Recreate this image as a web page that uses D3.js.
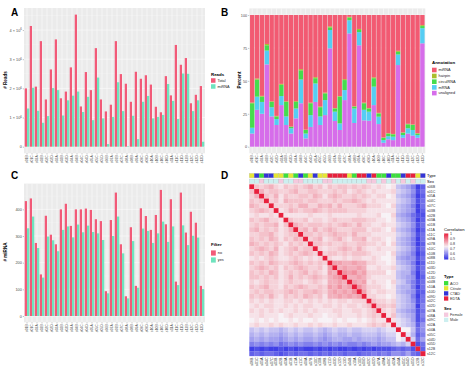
<!DOCTYPE html>
<html><head><meta charset="utf-8">
<script src="https://cdn.jsdelivr.net/npm/d3@7"></script>
<style>
body{margin:0;background:#fff}
svg{display:block}
text{font-family:"Liberation Sans",Arial,sans-serif}
</style>
</head><body>
<svg id="c" width="474" height="373"></svg>
<script>
// ---------- DATA ----------
const samples = ["s01B","s01C","s02A","s02B","s02C","s02D","s03A","s03B","s03D","s04A","s04B","s04C",
  "s04D","s05A","s05C","s05D","s06B","s07A","s07B","s07C","s08A","s08B","s09A","s09C",
  "s09D","s10A","s10B","s10C","s10D","s11A","s11C","s11D","s12B","s12C","s12D","s13D"];
// Panel A: reads (millions)
const totalReads = [2.00,4.14,2.06,3.62,1.62,2.65,3.68,1.66,1.89,2.72,4.53,1.38,2.56,1.94,3.38,1.62,1.21,1.44,
  3.62,2.49,2.16,1.54,2.57,2.33,2.45,2.13,1.37,1.18,2.42,1.76,3.49,2.81,3.04,1.49,1.78,2.08];
const mirnaReads = [1.31,2.02,1.23,0.82,1.05,2.01,1.94,1.07,1.59,1.75,1.89,1.19,1.71,0.91,2.37,0.97,0.09,1.02,
  2.21,1.22,0.02,1.06,0.26,1.54,1.74,0.97,1.02,1.09,2.15,1.57,0.95,2.51,2.50,1.22,1.59,0.17];
const readTicks = [0,1,2,3,4];
// Panel B: annotation percentages
const pctUnaligned = [10,28,25,62.5,23,16.5,31.6,16.5,10,21.5,33,6.3,15,34,16.5,24,74.7,19.5,12.7,35.4,86,18,77,20,19.7,31.6,17.2,3,5.6,5,62,6.8,10,8.4,6.8,78.5];
const pctMRNA = [4.4,10,9,10.5,7,4.5,6.9,6.5,4,7.5,18,3.7,9,14,6.5,11.4,13.9,7.1,5,7.6,10,11,10,8,6.9,14,5.6,2,2.4,2.6,8,2.1,4,4.3,2.1,11.5];
const pctCircul = [18.6,13,4,4,4,2,8.5,11,1,5,7,2.7,9,4,7,5.1,2,2.4,20.3,7.6,2,1.4,1.6,5,2.4,6.4,2.5,1.8,2,1.8,2,1.7,3,3.8,1.1,1.6];
const pctHairpin = [0.5,0.8,0.6,1.0,0.5,0.4,0.7,0.5,0.3,0.6,0.9,0.3,0.5,0.8,0.5,0.6,0.8,0.4,0.5,0.7,0.6,0.4,0.8,0.5,0.4,0.7,0.4,0.2,0.3,0.3,0.8,0.3,0.4,0.4,0.3,0.7];
const pctMiRNA = [66.5,48.2,61.4,22,65.5,76.6,52.3,65.5,84.7,65.4,41.1,87,66.5,47.2,69.5,58.9,8.6,70.6,61.5,48.7,1.4,69.2,10.6,66.5,70.6,47.3,74.3,93,89.7,90.3,27.2,89.1,82.6,83.1,89.7,7.7];
const annotLevels = ["miRNA","hairpin","circulRNA","mRNA","unaligned"];
const annotColors = ["#F25A72","#A9BE2E","#46DC4E","#55CDF3","#D66DEA"];
const pctTicks = [0,25,50,75,100];
// Panel C: number of miRNAs
const mirnaNo = [431,441,274,156,376,305,269,400,421,338,400,400,403,398,363,356,93,360,463,269,74,333,113,404,375,323,379,473,344,438,129,463,313,391,350,113];
const mirnaYes = [329,373,255,144,298,284,243,323,336,295,343,314,339,315,310,285,85,300,373,235,66,281,106,328,319,274,310,354,278,336,116,340,266,301,294,101];
const mirnaTicks = [0,100,200,300,400];
// Panel D: correlation heatmap (lower triangle, letters a..z = 0.50..1.00 step 0.02)
const heatLabels = ["s06B","s01C","s05A","s04C","s07C","s03B","s02B","s03A","s01B","s11A","s11C","s09A",
  "s07B","s10C","s10B","s08B","s11D","s03D","s12D","s13D","s04B","s10A","s10D","s09D",
  "s02C","s02D","s07A","s08A","s09C","s02A","s04A","s05C","s04D","s05D","s12B","s12C"];
const heatRows = [
 "z","pz","oqz","popz","qpooz","opqpoz","nonnonz","popqoonz","opoppqnpz","pqopopnoqz",
 "ooppqonoppz","popoqpnpoqpz","qpopoponpopoz","opqpoqnopqoppz","popoqpnopopqpoz","nonoponnopononoz",
 "popoqpoopqpopopoz","opqpopnpopqpoopnrz","popoqpnopopqoponrqz","ppopopnoqopopqpoqrsz",
 "onopoonopoonoponqqrqz","popqoonpopqpoopoorqsqrz".slice(0,0)+"popqoonpopqpoopo"+"rqsqr"+"z",
 "opoppoopqpoppqpo"+"qrqrqs"+"z","popoqonpopoqpopn"+"qqrqrqr"+"z",
 "onononnoonononon"+"onoonooo"+"z","nonoonnononoonno"+"ononoono"+"p"+"z",
 "ononononnonononn"+"noonnoon"+"op"+"z","nnonnnmnonnnonnm"+"nnonnnon"+"opo"+"z",
 "mnmnmnmmnmnmmnmm"+"mnmnmmnm"+"nonn"+"z","nonnononnonnonon"+"nonnonnn"+"opopn"+"z",
 "jkjkjjijkjkjjkji"+"jkjjkjjk"+"kkjkll"+"z","ijijiihijijiijih"+"ijiijiij"+"jjijkk"+"m"+"z",
 "hihihhghihihhihg"+"hiihhihi"+"iihijj"+"ml"+"z","fgfgfgefgfgffgfg"+"fgfgffgf"+"ghghhi"+"jik"+"z",
 "bcbcbbcbcbcbbcbc"+"bcbbcbcb"+"cbcccd"+"edec"+"z","dedeedcdedeedede"+"deedeede"+"efefeg"+"gfhe"+"d"+"z"
];
const typeLevels = ["ACO","Citrate","CTAD","EDTA"];
const typeColors = ["#3BE03B","#E6E636","#3434D6","#E8203C"];
const tubeLetters = ["A","B","C","D"];
const sexLevels = ["Female","Male"];
const sexColors = ["#F5C9DE","#CDEFF0"];
const subjectSex = {"s01":"Male","s02":"Female","s03":"Male","s04":"Male","s05":"Female","s06":"Male","s07":"Male",
  "s08":"Female","s09":"Male","s10":"Male","s11":"Female","s12":"Male","s13":"Male"};
const corTicks = [1,0.9,0.8,0.7,0.6,0.5];

// ---------- DRAW ----------
const svg = d3.select("#c");
const PINK = "#F25A78", GREEN = "#6FE3BE";
const tickCol = "#4D4D4D";

function panelLetter(t, x, y){
  svg.append("text").attr("x",x).attr("y",y).attr("font-size",10).attr("font-weight","bold").text(t);
}
panelLetter("A",11,16); panelLetter("B",221,16); panelLetter("C",11,179); panelLetter("D",221,179);

function greyPanel(g, x0, x1, y0, y1, yScale, ticks, xScale){
  g.append("rect").attr("x",x0).attr("y",y0).attr("width",x1-x0).attr("height",y1-y0).attr("fill","#EBEBEB");
  const mids = [];
  for (let i=0;i<ticks.length-1;i++) mids.push((ticks[i]+ticks[i+1])/2);
  mids.push(ticks[ticks.length-1] + (ticks[1]-ticks[0])/2);
  g.selectAll(null).data(mids.filter(v=>yScale(v)>y0)).join("line")
    .attr("x1",x0).attr("x2",x1).attr("y1",d=>yScale(d)).attr("y2",d=>yScale(d))
    .attr("stroke","#F7F7F7").attr("stroke-width",0.3);
  g.selectAll(null).data(ticks).join("line")
    .attr("x1",x0).attr("x2",x1).attr("y1",d=>yScale(d)).attr("y2",d=>yScale(d))
    .attr("stroke","#fff").attr("stroke-width",0.5);
  g.selectAll(null).data(xScale.domain()).join("line")
    .attr("x1",d=>xScale(d)+xScale.bandwidth()/2).attr("x2",d=>xScale(d)+xScale.bandwidth()/2)
    .attr("y1",y0).attr("y2",y1).attr("stroke","#fff").attr("stroke-width",0.5);
}

function xAxis(g, xScale, y){
  const ax = g.append("g").attr("transform",`translate(0,${y})`)
    .call(d3.axisBottom(xScale).tickSize(1.2).tickPadding(1).tickSizeOuter(0));
  ax.select(".domain").remove();
  ax.selectAll("line").attr("stroke","#333").attr("stroke-width",0.3);
  ax.selectAll("text").attr("font-size",3.4).attr("fill",tickCol)
    .attr("transform","rotate(-90)").attr("text-anchor","end")
    .attr("x",-2).attr("y",0).attr("dy","0.35em");
}
function yAxis(g, yScale, ticks, x, fmt){
  const ax = g.append("g").attr("transform",`translate(${x},0)`)
    .call(d3.axisLeft(yScale).tickValues(ticks).tickSize(1.2).tickPadding(1).tickSizeOuter(0));
  ax.select(".domain").remove();
  ax.selectAll("line").attr("stroke","#333").attr("stroke-width",0.3);
  const t = ax.selectAll("text").attr("font-size",3.8).attr("fill",tickCol);
  if (fmt) t.each(fmt);
}
function axisTitle(text, x, y){
  svg.append("text").attr("transform",`translate(${x},${y}) rotate(-90)`).attr("text-anchor","middle")
    .attr("font-size",4.6).attr("font-weight","bold").text(text);
}
function legend(x, yTitle, title, labels, colors, yKeys, keyW, keyH){
  const g = svg.append("g");
  g.append("text").attr("x",x).attr("y",yTitle).attr("font-size",4.4).attr("font-weight","bold").text(title);
  labels.forEach((l,i)=>{
    g.append("rect").attr("x",x).attr("y",yKeys[i]-keyH/2).attr("width",keyW).attr("height",keyH).attr("fill",colors[i]);
    g.append("text").attr("x",x+keyW+2).attr("y",yKeys[i]).attr("dy","0.35em").attr("font-size",3.8).attr("fill","#222").text(l);
  });
}

function dodgePanel(x0,x1,y0,y1,maxV,vA,vB,ticks,fmt){
  const g = svg.append("g");
  const x = d3.scaleBand().domain(samples).range([x0,x1]).paddingInner(0).paddingOuter(0.1);
  const y = d3.scaleLinear().domain([-0.05*maxV, 1.05*maxV]).range([y1,y0]);
  greyPanel(g,x0,x1,y0,y1,y,ticks,x);
  const step = x.step(), bw = step*0.45;
  g.selectAll(null).data(samples).join("rect")
    .attr("x",(d,i)=>x(d)+step/2-bw).attr("width",bw)
    .attr("y",(d,i)=>y(vA[i])).attr("height",(d,i)=>y(0)-y(vA[i])).attr("fill",PINK);
  g.selectAll(null).data(samples).join("rect")
    .attr("x",(d,i)=>x(d)+step/2).attr("width",bw)
    .attr("y",(d,i)=>y(vB[i])).attr("height",(d,i)=>y(0)-y(vB[i])).attr("fill",GREEN);
  xAxis(g,x,y1);
  yAxis(g,y,ticks,x0,fmt);
}

// Panel A
dodgePanel(24,205,8,153.3,d3.max(totalReads),totalReads,mirnaReads,readTicks,function(d){
  const t = d3.select(this); t.text(null);
  if (d===0){ t.text("0"); return; }
  t.append("tspan").text(d+" \u00D7 10");
  t.append("tspan").attr("dy",-1.3).attr("font-size",2.8).text("6");
});
axisTitle("# Reads",6.5,80);
legend(211,76,"Reads",["Total","miRNA"],[PINK,GREEN],[80.5,86.5],4.5,4.5);

// Panel C
dodgePanel(24,205,183.6,322.3,d3.max(mirnaNo),mirnaNo,mirnaYes,mirnaTicks,null);
axisTitle("# miRNA",6.5,252);
legend(211,246,"Filter",["no","yes"],[PINK,GREEN],[253,260],4.8,5.2);

// Panel B
(function(){
  const x0=249.3,x1=425.3,y0=8.4,y1=153.3;
  const g = svg.append("g");
  const x = d3.scaleBand().domain(samples).range([x0,x1]).paddingInner(0).paddingOuter(0.1);
  const y = d3.scaleLinear().domain([-5,105]).range([y1,y0]);
  greyPanel(g,x0,x1,y0,y1,y,pctTicks,x);
  const rows = samples.map((s,i)=>({s, unaligned:pctUnaligned[i], mRNA:pctMRNA[i], circulRNA:pctCircul[i], hairpin:pctHairpin[i], miRNA:pctMiRNA[i]}));
  const keys = ["unaligned","mRNA","circulRNA","hairpin","miRNA"];
  const stack = d3.stack().keys(keys)(rows);
  const bw = x.step()*0.9;
  stack.forEach(layer=>{
    const col = annotColors[annotLevels.indexOf(layer.key)];
    g.selectAll(null).data(layer).join("rect")
      .attr("x",d=>x(d.data.s)+x.step()/2-bw/2).attr("width",bw)
      .attr("y",d=>y(d[1])).attr("height",d=>y(d[0])-y(d[1])).attr("fill",col);
  });
  xAxis(g,x,y1);
  yAxis(g,y,pctTicks,x0,null);
  axisTitle("Percent",240.5,80);
  legend(432,63.5,"Annotation",annotLevels,annotColors,[70,76,81.7,87.4,93.1],4.6,4.6);
})();

// Panel D
(function(){
  const x0=249.3,x1=425.3,y0=184.3,y1=356;
  const g = svg.append("g");
  const x = d3.scaleBand().domain(heatLabels).range([x0,x1]);
  const y = d3.scaleBand().domain(heatLabels).range([y0,y1]);
  const letters = "abcdefghijklmnopqrstuvwxyz";
  const val = (i,j)=>{
    const r = j<=i ? heatRows[i] : heatRows[j];
    const c = j<=i ? j : i;
    const ch = r.charAt(c) || "p";
    return 0.5 + letters.indexOf(ch)*0.02;
  };
  const color = d3.scaleLinear().domain([0.5,0.74,1]).range(["#2F2FE4","#F7F2F6","#E8203C"]);
  const cells = [];
  heatLabels.forEach((r,i)=>heatLabels.forEach((c,j)=>cells.push({r,c,v:val(i,j)})));
  g.selectAll(null).data(cells).join("rect")
    .attr("x",d=>x(d.c)).attr("y",d=>y(d.r)).attr("width",x.bandwidth()+0.15).attr("height",y.bandwidth()+0.15)
    .attr("fill",d=>color(d.v));
  // annotation rows
  const typeOf = s => typeLevels[tubeLetters.indexOf(s.slice(-1))];
  const sexOf = s => subjectSex[s.slice(0,3)];
  const typeY = 173.4, sexY = 179, aH = 4.4;
  g.selectAll(null).data(heatLabels).join("rect")
    .attr("x",d=>x(d)).attr("y",typeY).attr("width",x.bandwidth()).attr("height",aH)
    .attr("fill",d=>typeColors[typeLevels.indexOf(typeOf(d))]).attr("stroke","#A0A0A0").attr("stroke-width",0.2);
  g.selectAll(null).data(heatLabels).join("rect")
    .attr("x",d=>x(d)).attr("y",sexY).attr("width",x.bandwidth()).attr("height",aH)
    .attr("fill",d=>sexColors[sexLevels.indexOf(sexOf(d))]).attr("stroke","#A0A0A0").attr("stroke-width",0.2);
  g.append("text").attr("x",427).attr("y",typeY+aH/2).attr("dy","0.35em").attr("font-size",4).text("Type");
  g.append("text").attr("x",427).attr("y",sexY+aH/2).attr("dy","0.35em").attr("font-size",4).text("Sex");
  // row labels
  g.selectAll(null).data(heatLabels).join("text")
    .attr("x",427).attr("y",d=>y(d)+y.bandwidth()/2).attr("dy","0.35em")
    .attr("font-size",3.6).attr("fill","#333").text(d=>d);
  // column labels
  g.selectAll(null).data(heatLabels).join("text")
    .attr("transform",d=>`translate(${x(d)+x.bandwidth()/2},${y1+1.5}) rotate(-90)`)
    .attr("text-anchor","end").attr("dy","0.35em")
    .attr("font-size",3.6).attr("fill","#333").text(d=>d);
  // colorbar legend
  const lx = 444;
  g.append("text").attr("x",lx).attr("y",231).attr("font-size",4.2).text("Correlation");
  const defs = svg.append("defs");
  const grad = defs.append("linearGradient").attr("id","cg").attr("x1",0).attr("x2",0).attr("y1",0).attr("y2",1);
  d3.range(0,1.0001,0.1).forEach(t=>{
    grad.append("stop").attr("offset",t).attr("stop-color",color(1-0.5*t));
  });
  const cb = d3.scaleLinear().domain([1,0.5]).range([234.2,258.8]);
  g.append("rect").attr("x",lx).attr("y",233.5).attr("width",4.3).attr("height",26).attr("fill","url(#cg)");
  g.selectAll(null).data(corTicks).join("text")
    .attr("x",lx+6).attr("y",d=>cb(d)).attr("dy","0.35em").attr("font-size",3.6).attr("fill","#333").text(d=>d);
  g.selectAll(null).data(corTicks).join("line")
    .attr("x1",lx).attr("x2",lx+0.9).attr("y1",d=>cb(d)).attr("y2",d=>cb(d)).attr("stroke","#fff").attr("stroke-width",0.3);
  // type & sex legends
  const keyS = 4.3;
  g.append("text").attr("x",lx).attr("y",278).attr("font-size",4.2).attr("font-weight","bold").text("Type");
  typeLevels.forEach((l,i)=>{
    const yy = 283.2 + i*5.1;
    g.append("rect").attr("x",lx).attr("y",yy-keyS/2).attr("width",keyS).attr("height",keyS).attr("fill",typeColors[i]);
    g.append("text").attr("x",lx+6).attr("y",yy).attr("dy","0.35em").attr("font-size",3.8).attr("fill","#333").text(l);
  });
  g.append("text").attr("x",lx).attr("y",309.5).attr("font-size",4.2).attr("font-weight","bold").text("Sex");
  sexLevels.forEach((l,i)=>{
    const yy = 314.7 + i*5.2;
    g.append("rect").attr("x",lx).attr("y",yy-keyS/2).attr("width",keyS).attr("height",keyS).attr("fill",sexColors[i]);
    g.append("text").attr("x",lx+6).attr("y",yy).attr("dy","0.35em").attr("font-size",3.8).attr("fill","#333").text(l);
  });
})();
</script>
</body></html>
